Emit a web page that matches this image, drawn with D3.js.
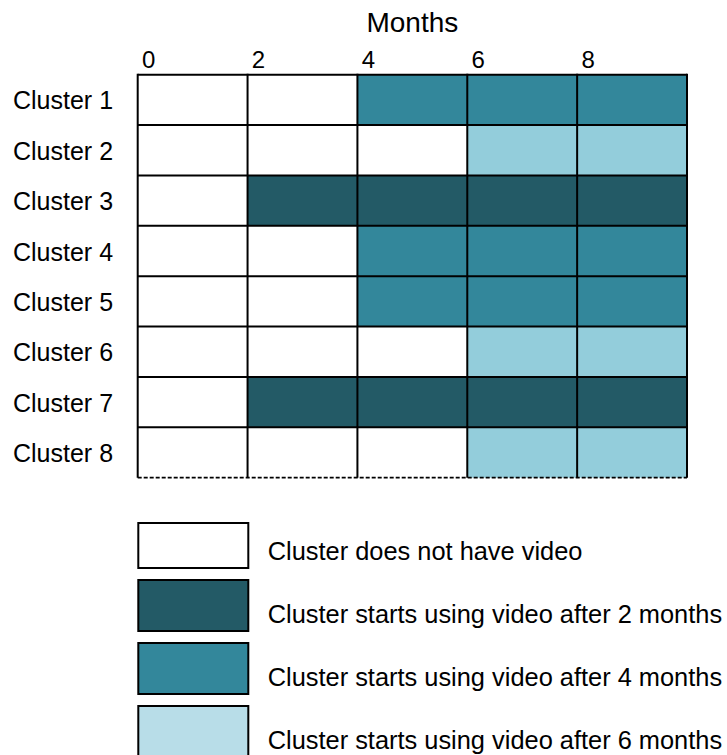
<!DOCTYPE html>
<html>
<head>
<meta charset="utf-8">
<script src="https://cdn.jsdelivr.net/npm/d3@7"></script>
<style>
  body { margin: 0; background: #fff; }
  svg { display: block; font-family: "Liberation Sans", Arial, sans-serif; }
</style>
</head>
<body>
<svg id="chart" width="727" height="755"></svg>
<script>
// clusters and the month each one starts using video (null = never)
const clusters = ['Cluster 1', 'Cluster 2', 'Cluster 3', 'Cluster 4',
                  'Cluster 5', 'Cluster 6', 'Cluster 7', 'Cluster 8'];
const startMonth = [4, 6, 2, 4, 4, 6, 2, 6];
const periods = [0, 2, 4, 6, 8];          // left edge of each 2-month column
const monthTicks = [0, 2, 4, 6, 8];
const legendLabels = [
  'Cluster does not have video',
  'Cluster starts using video after 2 months',
  'Cluster starts using video after 4 months',
  'Cluster starts using video after 6 months'
];
const legendKeys = [null, 2, 4, 6];

const cellColor = { 2: '#235a66', 4: '#33879b', 6: '#93cddb' };
const legendColor = { 2: '#235a66', 4: '#33879b', 6: '#b8dde8' };

const svg = d3.select('#chart');

const x = d3.scaleLinear().domain([0, 10]).range([137.7, 687]);
const y = d3.scaleBand().domain(clusters).range([74.7, 477.7]);

// cells
const cells = [];
clusters.forEach((c, i) => {
  periods.forEach(p => {
    cells.push({ cluster: c, month: p, start: startMonth[i] });
  });
});

svg.append('g').selectAll('rect')
  .data(cells)
  .join('rect')
    .attr('x', d => x(d.month))
    .attr('y', d => y(d.cluster))
    .attr('width', x(2) - x(0))
    .attr('height', y.bandwidth())
    .attr('fill', d => (d.start != null && d.month >= d.start) ? cellColor[d.start] : '#fff');

// grid lines
const grid = svg.append('g').attr('stroke', '#000').attr('stroke-width', 2);
grid.selectAll('line.h')
  .data(clusters)
  .join('line')
    .attr('class', 'h')
    .attr('x1', x(0)).attr('x2', x(10))
    .attr('y1', d => y(d)).attr('y2', d => y(d));
grid.selectAll('line.v')
  .data(periods.concat([10]))
  .join('line')
    .attr('class', 'v')
    .attr('x1', d => x(d)).attr('x2', d => x(d))
    .attr('y1', y.range()[0] - 1).attr('y2', y.range()[1]);
grid.append('line')
  .attr('x1', x(0)).attr('x2', x(10))
  .attr('y1', y.range()[1]).attr('y2', y.range()[1])
  .attr('stroke-width', 1.8)
  .attr('stroke-dasharray', '4,2');

// top axis labels
svg.append('g').selectAll('text')
  .data(monthTicks)
  .join('text')
    .attr('x', d => x(d) + 4.3)
    .attr('y', 67.5)
    .attr('font-size', 24)
    .text(d => d);

svg.append('text')
  .attr('x', (x(0) + x(10)) / 2)
  .attr('y', 31.7)
  .attr('text-anchor', 'middle')
  .attr('font-size', 28)
  .text('Months');

// row labels
svg.append('g').selectAll('text')
  .data(clusters)
  .join('text')
    .attr('x', 13)
    .attr('y', d => y(d) + y.bandwidth() / 2 + 9.5)
    .attr('font-size', 25)
    .text(d => d);

// legend
const legend = svg.append('g').selectAll('g')
  .data(legendLabels)
  .join('g');

const boxBottom = i => 568 + 63 * i;
legend.append('rect')
  .attr('x', 138.3)
  .attr('width', 110)
  .attr('y', (d, i) => boxBottom(i) - (i === 0 ? 45 : 51))
  .attr('height', (d, i) => i === 0 ? 45 : 51)
  .attr('fill', (d, i) => legendKeys[i] == null ? '#fff' : legendColor[legendKeys[i]])
  .attr('stroke', '#000')
  .attr('stroke-width', 2);

legend.append('text')
  .attr('x', 267.7)
  .attr('y', (d, i) => boxBottom(i) - 7.8)
  .attr('font-size', 25.4)
  .text(d => d);
</script>
</body>
</html>
